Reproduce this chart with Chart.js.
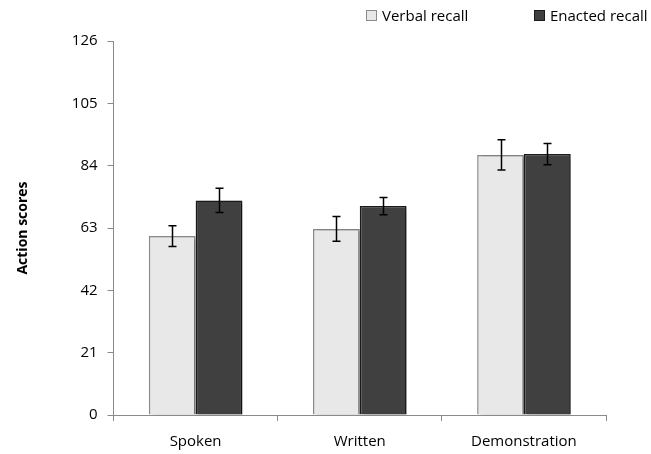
<!DOCTYPE html>
<html>
<head>
<meta charset="utf-8">
<script src="https://cdn.jsdelivr.net/npm/chart.js@4/dist/chart.umd.min.js"></script>
<style>
html,body{margin:0;padding:0;background:#fff;}
#wrap{position:relative;width:651px;height:454px;}
#c{position:absolute;left:0;top:0;}
.leg{position:absolute;top:4px;height:22px;display:flex;align-items:center;font-family:'Open Sans',sans-serif;font-size:15px;color:#000;white-space:nowrap;}
.leg .box{width:11px;height:11px;margin-right:5px;box-sizing:border-box;}
</style>
</head>
<body>
<div id="wrap">
  <canvas id="c" width="651" height="454"></canvas>
  <div id="legend"></div>
</div>
<script>
const categories = ["Spoken", "Written", "Demonstration"];
const verbalValues = [60.3, 62.7, 87.6];
const verbalErrors = [3.5, 4.2, 5.1];
const enactedValues = [72.3, 70.4, 87.9];
const enactedErrors = [4.1, 2.9, 3.6];
const yTicks = [0, 21, 42, 63, 84, 105, 126];
const seriesNames = ["Verbal recall", "Enacted recall"];

const errorBarPlugin = {
  id: 'errorBars',
  afterDatasetsDraw(chart) {
    const ctx = chart.ctx;
    const yScale = chart.scales.y;
    chart.data.datasets.forEach((ds, di) => {
      const meta = chart.getDatasetMeta(di);
      meta.data.forEach((bar, i) => {
        const v = ds.data[i], e = ds.errors[i];
        const yTop = yScale.getPixelForValue(v + e);
        const yBot = yScale.getPixelForValue(v - e);
        const x = Math.round(bar.x) + 0.5;
        ctx.save();
        ctx.strokeStyle = '#000';
        ctx.lineWidth = 1.5;
        ctx.beginPath();
        ctx.moveTo(x, yTop); ctx.lineTo(x, yBot);
        ctx.moveTo(x - 4, yTop); ctx.lineTo(x + 4, yTop);
        ctx.moveTo(x - 4, yBot); ctx.lineTo(x + 4, yBot);
        ctx.stroke();
        ctx.restore();
      });
    });
  }
};

const shadowPlugin = {
  id: 'barShadow',
  beforeDatasetDraw(chart) {
    const ctx = chart.ctx;
    ctx.save();
    ctx.shadowColor = 'rgba(0,0,0,0.35)';
    ctx.shadowBlur = 3;
    ctx.shadowOffsetX = 3;
    ctx.shadowOffsetY = 1;
  },
  afterDatasetDraw(chart) {
    chart.ctx.restore();
  }
};

const chart = new Chart(document.getElementById('c'), {
  type: 'bar',
  data: {
    labels: categories,
    datasets: [
      {
        label: seriesNames[0],
        data: verbalValues,
        errors: verbalErrors,
        backgroundColor: '#e8e8e8',
        borderColor: '#8a8a8a',
        borderWidth: 1.5,
        categoryPercentage: 0.57,
        barPercentage: 1.0
      },
      {
        label: seriesNames[1],
        data: enactedValues,
        errors: enactedErrors,
        backgroundColor: '#404040',
        borderColor: '#1a1a1a',
        borderWidth: 1.5,
        categoryPercentage: 0.57,
        barPercentage: 1.0
      }
    ]
  },
  options: {
    responsive: false,
    animation: false,
    devicePixelRatio: 1,
    layout: { padding: { left: 11, right: 45, top: 41, bottom: -9 } },
    plugins: {
      legend: { display: false },
      tooltip: { enabled: false }
    },
    scales: {
      x: {
        offset: true,
        grid: { display: true, drawOnChartArea: false, offset: true, color: '#8a8a8a', tickLength: 6, tickWidth: 1 },
        border: { color: '#8a8a8a', width: 1 },
        ticks: { color: '#000', font: { family: 'Open Sans', size: 15 }, padding: 12 }
      },
      y: {
        min: 0,
        max: 126,
        afterBuildTicks(scale) { scale.ticks = yTicks.map(v => ({ value: v })); },
        grid: { display: true, drawOnChartArea: false, color: '#8a8a8a', tickLength: 6 },
        border: { color: '#8a8a8a', width: 1 },
        ticks: { color: '#000', font: { family: 'Open Sans', size: 15 }, padding: 10 },
        title: {
          display: true,
          text: 'Action scores',
          color: '#000',
          font: { family: 'Open Sans', size: 14, weight: 'bold' },
          padding: { bottom: 30 }
        }
      }
    }
  },
  plugins: [shadowPlugin, errorBarPlugin]
});

// HTML legend built from the datasets
const legendPos = [366, 534];
const legendEl = document.getElementById('legend');
chart.data.datasets.forEach((ds, i) => {
  const item = document.createElement('div');
  item.className = 'leg';
  item.style.left = legendPos[i] + 'px';
  const box = document.createElement('span');
  box.className = 'box';
  box.style.background = ds.backgroundColor;
  box.style.border = '1px solid ' + ds.borderColor;
  const txt = document.createElement('span');
  txt.textContent = ds.label;
  item.appendChild(box);
  item.appendChild(txt);
  legendEl.appendChild(item);
});
</script>
</body>
</html>
